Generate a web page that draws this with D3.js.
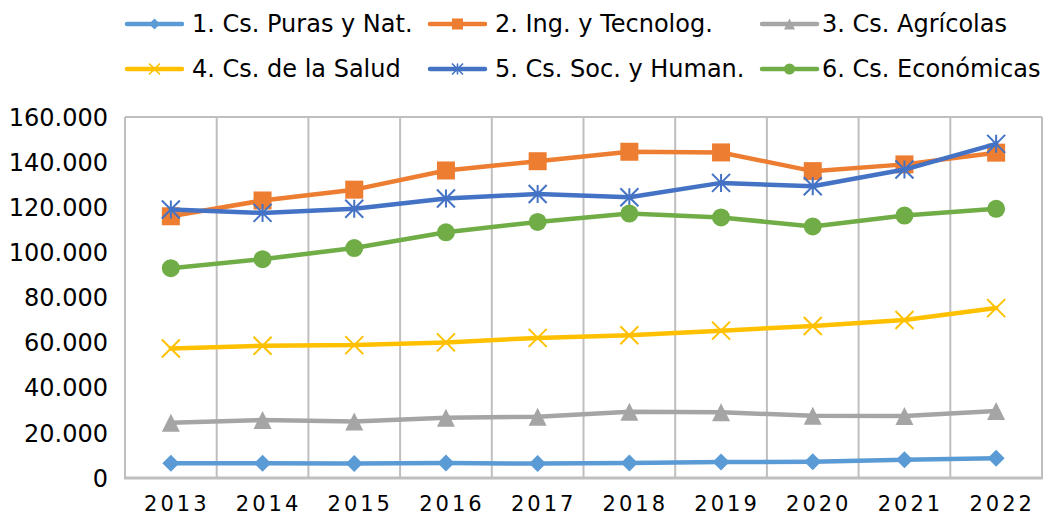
<!DOCTYPE html>
<html>
<head>
<meta charset="utf-8">
<script src="https://cdn.jsdelivr.net/npm/d3@7"></script>
<style>
    body { margin: 0; background: #fff; }
    svg text { font-family: "DejaVu Sans", Verdana, sans-serif; fill: #000; }
</style>
</head>
<body>
<svg id="chart" width="1046" height="516"></svg>
<script>
/*
    Evolución por área del conocimiento, 2013-2022.
*/

var years = ["2013", "2014", "2015", "2016", "2017", "2018", "2019", "2020", "2021", "2022"];

var puras  = [6500, 6500, 6400, 6600, 6400, 6600, 7100, 7200, 8100, 8700];
var ing    = [116000, 123000, 127800, 136300, 140400, 144600, 144300, 136000, 139000, 144200];
var agric  = [24500, 25700, 25000, 26700, 27200, 29400, 29100, 27600, 27500, 29700];
var salud  = [57400, 58600, 58900, 60100, 62100, 63300, 65300, 67400, 70000, 75300];
var soc    = [119000, 117500, 119300, 123900, 125900, 124400, 130800, 129300, 136700, 148100];
var econ   = [93000, 97000, 101900, 108900, 113500, 117200, 115500, 111500, 116300, 119300];

var yTicks = [0, 20000, 40000, 60000, 80000, 100000, 120000, 140000, 160000];

var series = [
    {name: "1. Cs. Puras y Nat.",   values: puras, color: "#5B9BD5", marker: "diamond"},
    {name: "2. Ing. y Tecnolog.",   values: ing,   color: "#ED7D31", marker: "square"},
    {name: "3. Cs. Agrícolas",      values: agric, color: "#A5A5A5", marker: "triangle"},
    {name: "4. Cs. de la Salud",    values: salud, color: "#FFC000", marker: "x"},
    {name: "5. Cs. Soc. y Human.",  values: soc,   color: "#4472C4", marker: "star"},
    {name: "6. Cs. Económicas",     values: econ,  color: "#70AD47", marker: "circle"}
];

var svg = d3.select("#chart");

var x = d3.scaleBand().domain(years).range([125, 1042]);
var y = d3.scaleLinear().domain([0, 160000]).range([478, 117]);

var es = d3.formatLocale({decimal: ",", thousands: ".", grouping: [3], currency: ["", ""]});
var fmt = es.format(",d");

function cx(i) { return x(years[i]) + x.bandwidth() / 2; }

// marcas: devuelve un <g> con la forma centrada en 0,0
function drawMarker(g, type, color, s) {
    var h = s / 2;
    if (type === "diamond") {
        g.append("path").attr("d", "M0," + (-h) + "L" + h + ",0L0," + h + "L" + (-h) + ",0Z").attr("fill", color);
    } else if (type === "square") {
        g.append("rect").attr("x", -h).attr("y", -h).attr("width", s).attr("height", s).attr("fill", color);
    } else if (type === "triangle") {
        g.append("path").attr("d", "M0," + (-h) + "L" + h + "," + h + "L" + (-h) + "," + h + "Z").attr("fill", color);
    } else if (type === "circle") {
        g.append("circle").attr("r", h).attr("fill", color);
    } else if (type === "x") {
        g.append("path").attr("d", "M" + (-h) + "," + (-h) + "L" + h + "," + h + "M" + h + "," + (-h) + "L" + (-h) + "," + h)
            .attr("stroke", color).attr("stroke-width", s > 12 ? 2 : 1.6).attr("fill", "none");
    } else if (type === "star") {
        g.append("path").attr("d", "M" + (-h) + "," + (-h) + "L" + h + "," + h + "M" + h + "," + (-h) + "L" + (-h) + "," + h + "M0," + (-h) + "L0," + h)
            .attr("stroke", color).attr("stroke-width", s > 12 ? 2 : 1.6).attr("fill", "none");
    }
}

// rejilla vertical y marco
var grid = svg.append("g").attr("class", "grid");
var bounds = years.map(function(d) { return x(d); }).concat([x.range()[1]]);
grid.selectAll("line.v")
    .data(bounds)
    .enter().append("line")
    .attr("class", "v")
    .attr("x1", function(d) { return d; }).attr("x2", function(d) { return d; })
    .attr("y1", y(160000)).attr("y2", y(0))
    .attr("stroke", "#BFBFBF").attr("stroke-width", 2);
grid.append("line")
    .attr("x1", x.range()[0]).attr("x2", x.range()[1])
    .attr("y1", y(160000)).attr("y2", y(160000))
    .attr("stroke", "#BFBFBF").attr("stroke-width", 2);
grid.append("line")
    .attr("x1", x.range()[0] - 1).attr("x2", x.range()[1] + 1)
    .attr("y1", y(0)).attr("y2", y(0))
    .attr("stroke", "#BFBFBF").attr("stroke-width", 3);

// eje y
svg.append("g")
    .selectAll("text")
    .data(yTicks)
    .enter().append("text")
    .attr("x", 108)
    .attr("y", function(d) { return y(d); })
    .attr("dy", "0.36em")
    .attr("text-anchor", "end")
    .style("font-size", "24px")
    .text(function(d) { return fmt(d); });

// eje x
svg.append("g")
    .selectAll("text")
    .data(years)
    .enter().append("text")
    .attr("x", function(d) { return x(d) + x.bandwidth() / 2 + 6; })
    .attr("y", 511)
    .attr("text-anchor", "middle")
    .style("font-size", "21px")
    .style("letter-spacing", "3px")
    .text(function(d) { return d; });

// series
var line = d3.line()
    .x(function(d, i) { return cx(i); })
    .y(function(d) { return y(d); });

var sg = svg.append("g").selectAll("g.series")
    .data(series)
    .enter().append("g")
    .attr("class", "series");

sg.append("path")
    .attr("d", function(d) { return line(d.values); })
    .attr("fill", "none")
    .attr("stroke", function(d) { return d.color; })
    .attr("stroke-width", 4.5)
    .attr("stroke-linejoin", "round")
    .attr("stroke-linecap", "round");

sg.each(function(s) {
    var g = d3.select(this);
    s.values.forEach(function(v, i) {
        var m = g.append("g").attr("transform", "translate(" + cx(i) + "," + y(v) + ")");
        drawMarker(m, s.marker, s.color, s.marker === "diamond" ? 17 : 18);
    });
});

// leyenda
var legCols = [127, 430, 762];
var legRows = [24, 69];
var leg = svg.append("g").selectAll("g.leg")
    .data(series)
    .enter().append("g")
    .attr("class", "leg")
    .attr("transform", function(d, i) {
        return "translate(" + legCols[i % 3] + "," + legRows[Math.floor(i / 3)] + ")";
    });

leg.append("line")
    .attr("x1", 0).attr("x2", 55)
    .attr("stroke", function(d) { return d.color; })
    .attr("stroke-width", 4.5)
    .attr("stroke-linecap", "round");

leg.each(function(s) {
    var m = d3.select(this).append("g").attr("transform", "translate(27.5,0)");
    drawMarker(m, s.marker, s.color, 11);
});

leg.append("text")
    .attr("x", function(d, i) { return i % 3 === 2 ? 60 : 65; })
    .attr("y", 8)
    .style("font-size", "24px")
    .text(function(d) { return d.name; });
</script>
</body>
</html>
